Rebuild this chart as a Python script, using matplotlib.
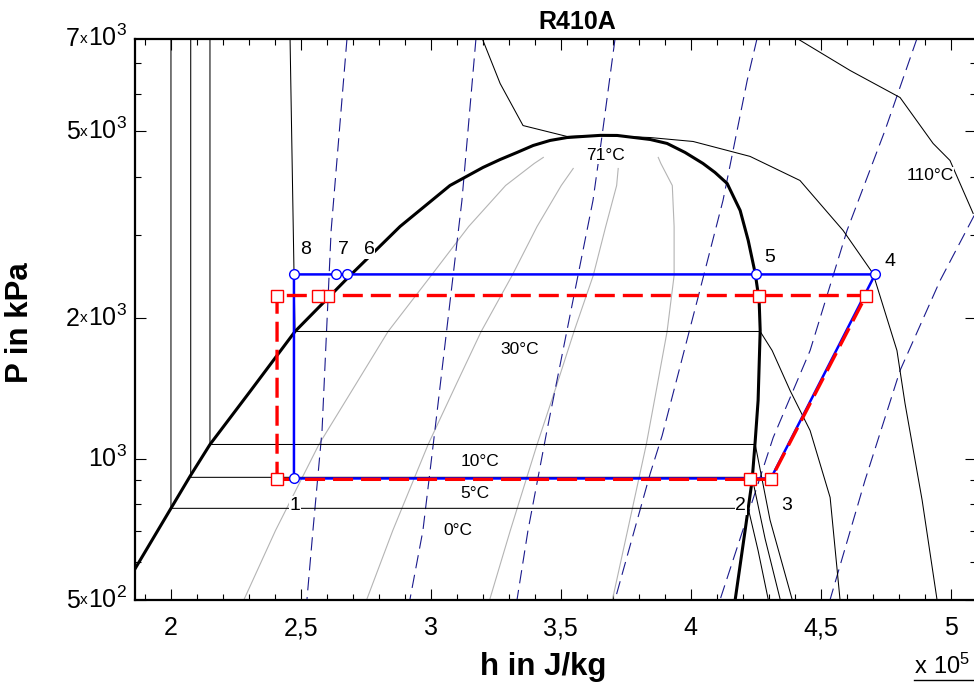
import numpy as np
import matplotlib
matplotlib.use('Agg')
import matplotlib.pyplot as plt
from matplotlib.lines import Line2D
from matplotlib.ticker import FixedLocator, NullFormatter, FuncFormatter

plt.rcParams['font.family'] = ['Liberation Sans', 'DejaVu Sans']
plt.rcParams['mathtext.fontset'] = 'custom'
plt.rcParams['mathtext.rm'] = 'Liberation Sans'

# enthalpy in 1e5 J/kg, pressure in kPa
sat_h = [1.860, 2.001, 2.074, 2.151, 2.305, 2.478, 2.690, 2.882, 3.074, 3.201, 3.267,
         3.332, 3.394, 3.459, 3.524, 3.586, 3.652, 3.717, 3.844, 3.909, 3.978, 4.047,
         4.093, 4.140, 4.190, 4.221, 4.248, 4.263, 4.267, 4.259, 4.248, 4.236, 4.209, 4.171]
sat_P = [578, 783, 916, 1072, 1391, 1869, 2462, 3133, 3833, 4189, 4356,
         4510, 4667, 4784, 4853, 4879, 4905, 4903, 4807, 4714, 4510, 4272,
         4088, 3871, 3390, 2925, 2486, 2177, 1878, 1331, 1093, 898, 702, 500]

# constant quality lines x = 0.2 / 0.4 / 0.6 / 0.8
q_P_a = [500, 702, 1072, 1433, 1869, 2462, 3133, 3833, 4272, 4401]
q_P_b = [500, 702, 1072, 1433, 1869, 2462, 3133, 3833, 4168]
q02_h = [2.282, 2.403, 2.570, 2.709, 2.836, 3.002, 3.146, 3.288, 3.398, 3.433]
q04_h = [2.754, 2.854, 2.990, 3.096, 3.194, 3.313, 3.409, 3.502, 3.548]
q06_h = [3.227, 3.306, 3.409, 3.484, 3.551, 3.625, 3.673, 3.715, 3.721]
q08_h = [3.699, 3.757, 3.829, 3.871, 3.909, 3.936, 3.936, 3.929, 3.885, 3.875]

# isotherms
t0_h = [2.001, 2.001, 4.221, 4.259, 4.298]
t0_P = [7900, 783, 783, 636, 500]
t5_h = [2.077, 2.077, 4.236, 4.286, 4.344]
t5_P = [7900, 912, 912, 674, 500]
t10_h = [2.151, 2.151, 4.248, 4.305, 4.390]
t10_P = [7900, 1072, 1072, 739, 500]
t30_h = [2.459, 2.478, 4.267, 4.313, 4.382, 4.459, 4.536, 4.574]
t30_P = [7900, 1869, 1869, 1702, 1398, 1148, 826, 500]
t71_h = [3.198, 3.267, 3.355, 3.524, 3.652, 3.844, 4.009, 4.228, 4.420, 4.586, 4.701,
         4.793, 4.824, 4.890, 4.947]
t71_P = [7900, 6330, 5148, 4879, 4905, 4853, 4760, 4423, 3929, 3072, 2486,
         1702, 1312, 814, 500]
t110_h = [4.409, 4.613, 4.805, 4.932, 4.997, 5.086]
t110_P = [7900, 6749, 5909, 4714, 4335, 3341]

# isentropes
s1_h = [2.678, 2.617, 2.582, 2.547, 2.524]
s1_P = [7900, 3072, 1148, 702, 500]
s2_h = [3.174, 3.120, 3.016, 2.970, 2.920]
s2_P = [7900, 3561, 1148, 702, 500]
s3_h = [3.709, 3.659, 3.624, 3.447, 3.374, 3.332]
s3_P = [7900, 4903, 3561, 1148, 702, 500]
s4_h = [4.255, 4.217, 4.124, 4.028, 3.890, 3.844, 3.709]
s4_P = [7900, 6425, 3561, 2210, 1120, 929, 500]
s5_h = [4.870, 4.747, 4.601, 4.459, 4.317, 4.113]
s5_P = [7900, 5025, 3072, 1702, 1109, 500]
s6_h = [5.090, 4.959, 4.805, 4.670, 4.536]
s6_P = [3307, 2402, 1543, 898, 500]

# cycle with circles (points 1..8)
blue_h = [2.474, 4.228, 4.308, 4.709, 4.251, 2.678, 2.636, 2.474]
blue_P = [907, 907, 907, 2475, 2475, 2475, 2475, 2475]
# cycle with squares
red_h = [2.409, 4.228, 4.308, 4.674, 4.263, 2.605, 2.567, 2.409]
red_P = [903, 903, 903, 2231, 2231, 2231, 2231, 2231]

pt_names = ['1', '2', '3', '4', '5', '6', '7', '8']
pt_lab_h = [2.478, 4.193, 4.367, 4.767, 4.305, 2.763, 2.663, 2.517]
pt_lab_P = [794, 794, 794, 2636, 2690, 2798, 2798, 2798]

t_names = ['0°C', '5°C', '10°C', '30°C', '71°C', '110°C']
t_lab_h = [3.105, 3.171, 3.190, 3.343, 3.674, 4.920]
t_lab_P = [702, 842, 986, 1710, 4443, 4027]

xticks = [2, 2.5, 3, 3.5, 4, 4.5, 5]
ytick_vals = [500, 1000, 2000, 5000, 7900]
ytick_lead = ['5', '', '2', '5', '7']
ytick_exp = [2, 3, 3, 3, 3]

W, H = 974, 687
fig = plt.figure(figsize=(W / 100, H / 100), dpi=100)
ax = fig.add_axes([135 / W, 87.5 / H, 841 / W, 561 / H])
ax.set_yscale('log')
ax.set_xlim(1.8627, 5.097)
ax.set_ylim(500, 7900)

for qh, qp in [(q02_h, q_P_a), (q04_h, q_P_b), (q06_h, q_P_b), (q08_h, q_P_a)]:
    ax.plot(qh, qp, color='#b4b4b4', lw=0.8)

for sh, sp in [(s1_h, s1_P), (s2_h, s2_P), (s3_h, s3_P), (s4_h, s4_P), (s5_h, s5_P), (s6_h, s6_P)]:
    ax.plot(sh, sp, color='#1a1a8c', lw=0.8, linestyle=(0, (12, 6)))

for th, tp in [(t0_h, t0_P), (t5_h, t5_P), (t10_h, t10_P), (t30_h, t30_P),
               (t71_h, t71_P), (t110_h, t110_P)]:
    ax.plot(th, tp, color='black', lw=0.75)

ax.plot(sat_h, sat_P, color='black', lw=2.2, solid_joinstyle='round')

# blue cycle 1-2-3-4-5-6-7-8-1
bh = blue_h + [blue_h[0]]
bp = blue_P + [blue_P[0]]
ax.plot(bh, bp, color='#0000ff', lw=1.8, zorder=5)
rh = red_h + [red_h[0]]
rp = red_P + [red_P[0]]
ax.plot(rh, rp, color='#ff0000', lw=2.4, linestyle=(0, (6, 2.4)), zorder=6)
ax.plot(blue_h, blue_P, 'o', ms=7, mfc='white', mec='#0000ff', mew=1.0, zorder=7)
ax.plot(red_h, red_P, 's', ms=8, mfc='white', mec='#ff0000', mew=1.0, zorder=8)

for name, h, p in zip(pt_names, pt_lab_h, pt_lab_P):
    ax.text(h, p, name, fontsize=14, ha='center', va='center', zorder=9,
            bbox=dict(fc='white', ec='none', pad=0.5))
for name, h, p in zip(t_names, t_lab_h, t_lab_P):
    ax.text(h, p, name, fontsize=12.5, ha='center', va='center', zorder=9,
            bbox=dict(fc='white', ec='none', pad=0.5))

for side in ax.spines.values():
    side.set_linewidth(1.6)
ax.xaxis.set_major_locator(FixedLocator(xticks))
ax.xaxis.set_minor_locator(FixedLocator(np.arange(1.9, 5.1, 0.1)))
ax.xaxis.set_major_formatter(FuncFormatter(lambda v, pos: ('%g' % v).replace('.', ',')))
ax.yaxis.set_major_locator(FixedLocator([500, 1000, 2000, 5000]))
ax.yaxis.set_minor_locator(FixedLocator([600, 700, 800, 900, 3000, 4000, 6000, 7000]))
ax.yaxis.set_major_formatter(NullFormatter())
ax.yaxis.set_minor_formatter(NullFormatter())
ax.tick_params(which='both', direction='in', top=True, right=True, width=0.8)
ax.tick_params(which='major', length=8, labelsize=18, pad=12)
ax.tick_params(which='minor', length=4)

# pressure labels written as  5x10^2
fig.canvas.draw()
rend = fig.canvas.get_renderer()
x_right = ax.transAxes.transform((0, 0))[0] - 8
for val, lead, ex in zip(ytick_vals, ytick_lead, ytick_exp):
    base = ax.transData.transform((2.0, val))[1] - 8
    t = fig.text(x_right / W, base / H, r'$\mathregular{10^{%d}}$' % ex,
                 ha='right', va='baseline', fontsize=18)
    bb = t.get_window_extent(rend)
    if lead:
        tx = fig.text((bb.x0 - 0.5) / W, (base + 3.5) / H, 'x', ha='right',
                      va='baseline', fontsize=11)
        bx = tx.get_window_extent(rend)
        fig.text((bx.x0 - 0.5) / W, base / H, lead, ha='right', va='baseline', fontsize=18)

fig.text(577 / W, 1 - 22 / H, 'R410A', ha='center', va='center', fontsize=18, fontweight='bold')
fig.text(543 / W, 1 - 667 / H, 'h in J/kg', ha='center', va='center', fontsize=22.5, fontweight='bold')
fig.text(20 / W, 1 - 323 / H, 'P in kPa', ha='center', va='center', fontsize=22.5,
         fontweight='bold', rotation=90)
fig.text(914 / W, 1 - 674 / H, r'$\mathregular{x\ 10^5}$', ha='left', va='baseline', fontsize=17)
fig.add_artist(Line2D([914 / W, 1.0], [1 - 680 / H, 1 - 680 / H], color='black', lw=1.0))

fig.savefig('out.png', dpi=100)
